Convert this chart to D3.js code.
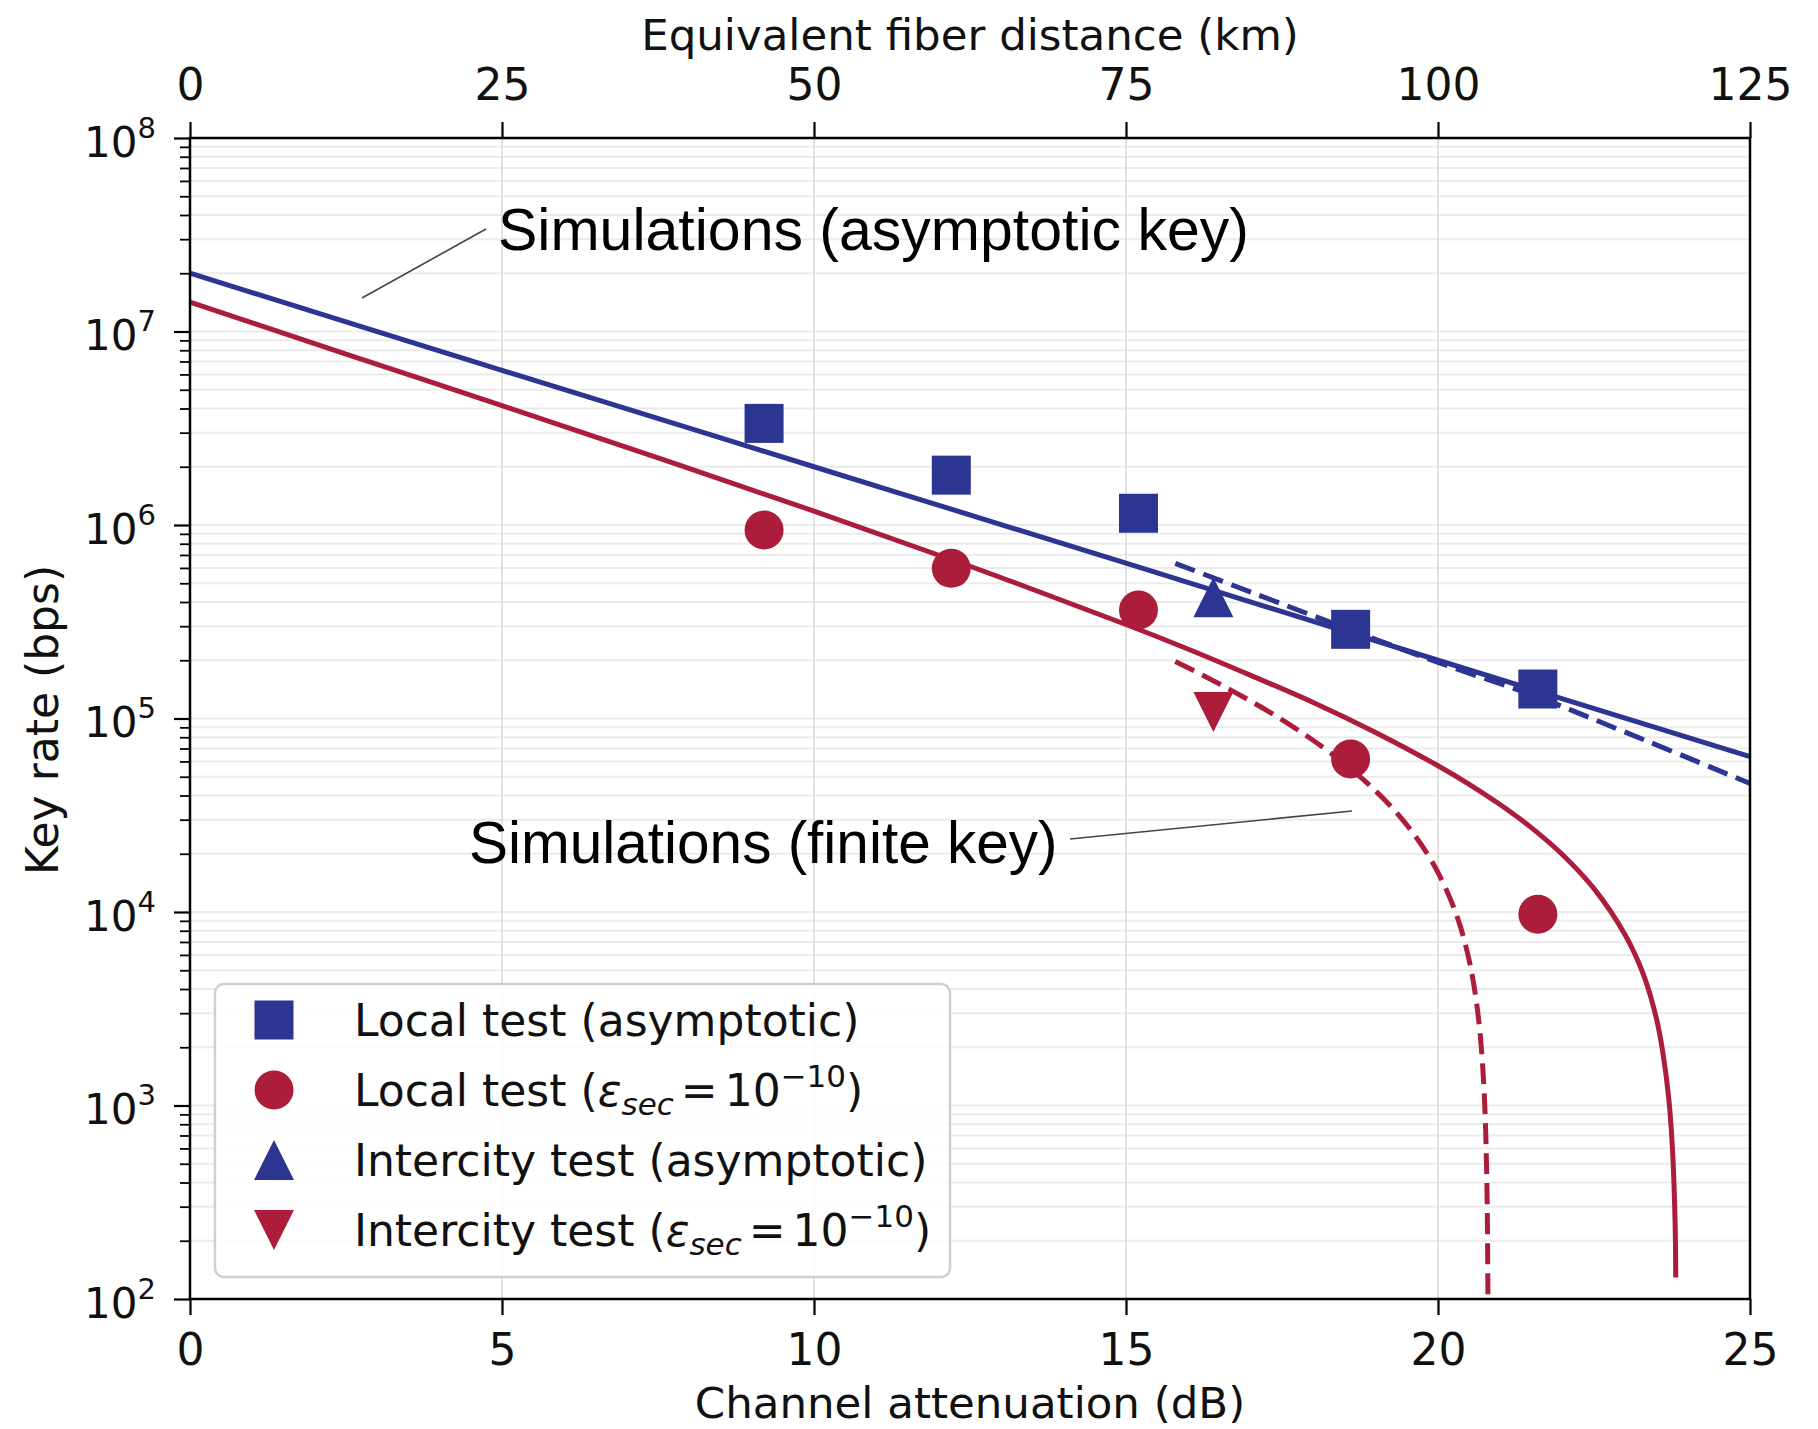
<!DOCTYPE html>
<html>
<head>
<meta charset="utf-8">
<script src="https://cdn.jsdelivr.net/npm/d3@7"></script>
<style>
  html, body { margin: 0; padding: 0; background: #fff; }
  svg { display: block; }
</style>
</head>
<body>
<svg id="chart" width="1818" height="1429"></svg>
<script>
// ---------------- DATA ----------------
const xTicksDb = [0, 5, 10, 15, 20, 25];
const xTicksKm = [0, 25, 50, 75, 100, 125];
const yTickExponents = [2, 3, 4, 5, 6, 7, 8];

// Measurements (channel attenuation in dB)
const localAtten = [9.2, 12.2, 15.2, 18.6, 21.6];
const localAsymptotic = [3.35e6, 1.81e6, 1.15e6, 2.89e5, 1.42e5];
const localFinite = [9.42e5, 5.97e5, 3.64e5, 6.18e4, 9.73e3];
const intercityAtten = [16.4];
const intercityAsymptotic = [4.23e5];
const intercityFinite = [1.08e5];

// Simulations
const simAsymLocalX = [0, 5, 10, 15, 20, 25];
const simAsymLocalY = [2.0e7, 6.3e6, 2.0e6, 6.35e5, 2.0e5, 6.35e4];
const simAsymInterX = [15.79, 17, 18.5, 20, 21.6, 23, 25];
const simAsymInterY = [6.34e5, 4.5e5, 2.95e5, 1.95e5, 1.29e5, 8.5e4, 4.62e4];
const simFiniteLocalX = [0, 2.5, 5, 7.5, 10, 12.5, 15, 16, 17, 18, 19, 20, 20.5, 21, 21.5, 22, 22.5, 23, 23.3, 23.5, 23.6, 23.7, 23.76, 23.8, 23.81];
const simFiniteLocalY = [1.42e7, 7.64e6, 4.14e6, 2.22e6, 1.18e6, 6.12e5, 3.06e5, 2.28e5, 1.67e5, 1.21e5, 8.47e4, 5.7e4, 4.57e4, 3.58e4, 2.72e4, 1.97e4, 1.32e4, 7.6e3, 4.68e3, 2.82e3, 1.91e3, 1.07e3, 575, 245, 129];
const simFiniteInterX = [15.79, 16.3, 16.79, 17.3, 17.8, 18.3, 18.8, 19.2, 19.6, 19.9, 20.15, 20.35, 20.5, 20.6, 20.68, 20.74, 20.78, 20.8, 20.805];
const simFiniteInterY = [1.97e5, 1.63e5, 1.34e5, 1.08e5, 8.53e4, 6.56e4, 4.84e4, 3.64e4, 2.56e4, 1.83e4, 1.27e4, 8.58e3, 5.62e3, 3.72e3, 2.25e3, 1.17e3, 456, 105, 17.5];

const legendLabels = [
  {kind: "square", text: "Local test (asymptotic)"},
  {kind: "circle", math: true, pre: "Local test ("},
  {kind: "triangle-up", text: "Intercity test (asymptotic)"},
  {kind: "triangle-down", math: true, pre: "Intercity test ("}
];

// ---------------- STYLE ----------------
const BLUE = "#2c3592";
const RED = "#ac1d3b";
const MPL_FONT = "'DejaVu Sans', sans-serif";
const ANN_FONT = "'Liberation Sans', Arial, Helvetica, sans-serif";

const svg = d3.select("#chart");
const W = 1818, H = 1429;
const margin = {left: 190, right: W - 1750, top: 138, bottom: H - 1299};

const x = d3.scaleLinear().domain([0, 25]).range([margin.left, W - margin.right]);
const y = d3.scaleLog().domain([1e2, 1e8]).range([H - margin.bottom, margin.top]);
const xKm = d3.scaleLinear().domain([0, 125]).range([margin.left, W - margin.right]);

const x0 = x.range()[0], x1 = x.range()[1];
const y0 = y.range()[0], y1 = y.range()[1];

const majors = yTickExponents.map(e => Math.pow(10, e));
const minors = [];
for (let e = 2; e < 8; e++) for (let m = 2; m <= 9; m++) minors.push(m * Math.pow(10, e));

// ---------------- GRID ----------------
const grid = svg.append("g");
grid.selectAll("line.h").data(minors.concat(majors)).join("line")
  .attr("x1", x0).attr("x2", x1)
  .attr("y1", d => y(d)).attr("y2", d => y(d))
  .attr("stroke", "#ebebeb").attr("stroke-width", 2);
grid.selectAll("line.v").data(xTicksDb.slice(1, -1)).join("line")
  .attr("x1", d => x(d)).attr("x2", d => x(d))
  .attr("y1", y0).attr("y2", y1)
  .attr("stroke", "#d8d8d8").attr("stroke-width", 1.5);

// ---------------- LINES ----------------
svg.append("clipPath").attr("id", "plotclip").append("rect")
  .attr("x", x0).attr("y", y1).attr("width", x1 - x0).attr("height", y0 - y1);

const line = d3.line().x(d => x(d[0])).y(d => y(d[1])).curve(d3.curveCatmullRom.alpha(0.5));
const plot = svg.append("g").attr("clip-path", "url(#plotclip)");
function addLine(xs, ys, color, dashed) {
  plot.append("path")
    .datum(xs.map((v, i) => [v, ys[i]]))
    .attr("d", line)
    .attr("fill", "none")
    .attr("stroke", color)
    .attr("stroke-width", 5)
    .attr("stroke-dasharray", dashed ? "21,9" : null);
}
addLine(simAsymLocalX, simAsymLocalY, BLUE, false);
addLine(simAsymInterX, simAsymInterY, BLUE, true);
addLine(simFiniteLocalX, simFiniteLocalY, RED, false);
addLine(simFiniteInterX, simFiniteInterY, RED, true);

// ---------------- MARKERS ----------------
function marker(g, kind, cx, cy, color) {
  if (kind === "square") {
    g.append("rect").attr("x", cx - 19.5).attr("y", cy - 19.5).attr("width", 39).attr("height", 39).attr("fill", color);
  } else if (kind === "circle") {
    g.append("circle").attr("cx", cx).attr("cy", cy).attr("r", 19.5).attr("fill", color);
  } else if (kind === "triangle-up") {
    const s = 20;
    g.append("path").attr("d", `M${cx},${cy - s}L${cx + s},${cy + s}L${cx - s},${cy + s}Z`).attr("fill", color);
  } else {
    const s = 20;
    g.append("path").attr("d", `M${cx},${cy + s}L${cx + s},${cy - s}L${cx - s},${cy - s}Z`).attr("fill", color);
  }
}
const mk = svg.append("g");
localAtten.forEach((a, i) => marker(mk, "square", x(a), y(localAsymptotic[i]), BLUE));
localAtten.forEach((a, i) => marker(mk, "circle", x(a), y(localFinite[i]), RED));
intercityAtten.forEach((a, i) => marker(mk, "triangle-up", x(a), y(intercityAsymptotic[i]), BLUE));
intercityAtten.forEach((a, i) => marker(mk, "triangle-down", x(a), y(intercityFinite[i]), RED));

// ---------------- AXES ----------------
function styleAxis(g) {
  g.select(".domain").remove();
  g.selectAll(".tick line").attr("stroke", "#000").attr("stroke-width", 2.2);
  g.selectAll("text").remove();
}
const gB = svg.append("g").attr("transform", `translate(0,${y0})`)
  .call(d3.axisBottom(x).tickValues(xTicksDb).tickSize(16));
styleAxis(gB);
gB.selectAll(".tick").append("text")
  .attr("y", 66).attr("text-anchor", "middle")
  .attr("font-family", MPL_FONT).attr("font-size", 44).attr("fill", "#111")
  .text(d => d);
const gT = svg.append("g").attr("transform", `translate(0,${y1})`)
  .call(d3.axisTop(xKm).tickValues(xTicksKm).tickSize(16));
styleAxis(gT);
gT.selectAll(".tick").append("text")
  .attr("y", -38).attr("text-anchor", "middle")
  .attr("font-family", MPL_FONT).attr("font-size", 44).attr("fill", "#111")
  .text(d => d);
const gL = svg.append("g").attr("transform", `translate(${x0},0)`)
  .call(d3.axisLeft(y).tickValues(majors).tickSize(16));
styleAxis(gL);
const yLab = gL.selectAll(".tick").append("text")
  .attr("x", -34).attr("y", 18).attr("text-anchor", "end")
  .attr("font-family", MPL_FONT).attr("font-size", 42).attr("fill", "#111");
yLab.append("tspan").text("10");
yLab.append("tspan").attr("dy", -19).attr("font-size", 29).text(d => Math.round(Math.log10(d)));
const gLm = svg.append("g").attr("transform", `translate(${x0},0)`)
  .call(d3.axisLeft(y).tickValues(minors).tickSize(10));
styleAxis(gLm);
gLm.selectAll(".tick line").attr("stroke-width", 1.8);

svg.append("rect").attr("x", x0).attr("y", y1).attr("width", x1 - x0).attr("height", y0 - y1)
  .attr("fill", "none").attr("stroke", "#000").attr("stroke-width", 2.5);

// axis titles
svg.append("text").attr("x", (x0 + x1) / 2).attr("y", 50).attr("text-anchor", "middle")
  .attr("font-family", MPL_FONT).attr("font-size", 43.5).attr("fill", "#111")
  .text("Equivalent fiber distance (km)");
svg.append("text").attr("x", (x0 + x1) / 2).attr("y", 1418).attr("text-anchor", "middle")
  .attr("font-family", MPL_FONT).attr("font-size", 43.5).attr("fill", "#111")
  .text("Channel attenuation (dB)");
svg.append("text").attr("transform", `translate(58,720) rotate(-90)`).attr("text-anchor", "middle")
  .attr("font-family", MPL_FONT).attr("font-size", 44).attr("fill", "#111")
  .text("Key rate (bps)");

// ---------------- ANNOTATIONS ----------------
svg.append("line").attr("x1", 486).attr("y1", 229).attr("x2", 362).attr("y2", 298)
  .attr("stroke", "#444").attr("stroke-width", 1.6);
svg.append("text").attr("x", 498).attr("y", 250)
  .attr("font-family", ANN_FONT).attr("font-size", 59).attr("fill", "#000")
  .text("Simulations (asymptotic key)");
svg.append("line").attr("x1", 1070).attr("y1", 839).attr("x2", 1352).attr("y2", 811)
  .attr("stroke", "#444").attr("stroke-width", 1.6);
svg.append("text").attr("x", 469).attr("y", 863)
  .attr("font-family", ANN_FONT).attr("font-size", 58.5).attr("fill", "#000")
  .text("Simulations (finite key)");

// ---------------- LEGEND ----------------
const lg = svg.append("g");
lg.append("rect").attr("x", 215).attr("y", 984).attr("width", 735).attr("height", 293)
  .attr("rx", 9).attr("ry", 9)
  .attr("fill", "#fff").attr("fill-opacity", 0.85)
  .attr("stroke", "#cfcfcf").attr("stroke-width", 2.5);
const rowY = [1020, 1090, 1160, 1230];
const legendColors = [BLUE, RED, BLUE, RED];
legendLabels.forEach((item, i) => {
  marker(lg, item.kind, 274, rowY[i], legendColors[i]);
  const t = lg.append("text").attr("x", 354).attr("y", rowY[i] + 16)
    .attr("font-family", MPL_FONT).attr("font-size", 44).attr("fill", "#111");
  if (!item.math) {
    t.text(item.text);
  } else {
    t.append("tspan").text(item.pre);
    t.append("tspan").attr("font-style", "italic").text("ε");
    t.append("tspan").attr("font-style", "italic").attr("font-size", 31).attr("dy", 9).text("sec");
    t.append("tspan").attr("dy", -9).attr("dx", 7).text("=");
    t.append("tspan").attr("dx", 7).text("10");
    t.append("tspan").attr("font-size", 31).attr("dy", -19).text("−10");
    t.append("tspan").attr("dy", 19).text(")");
  }
});
</script>
</body>
</html>
